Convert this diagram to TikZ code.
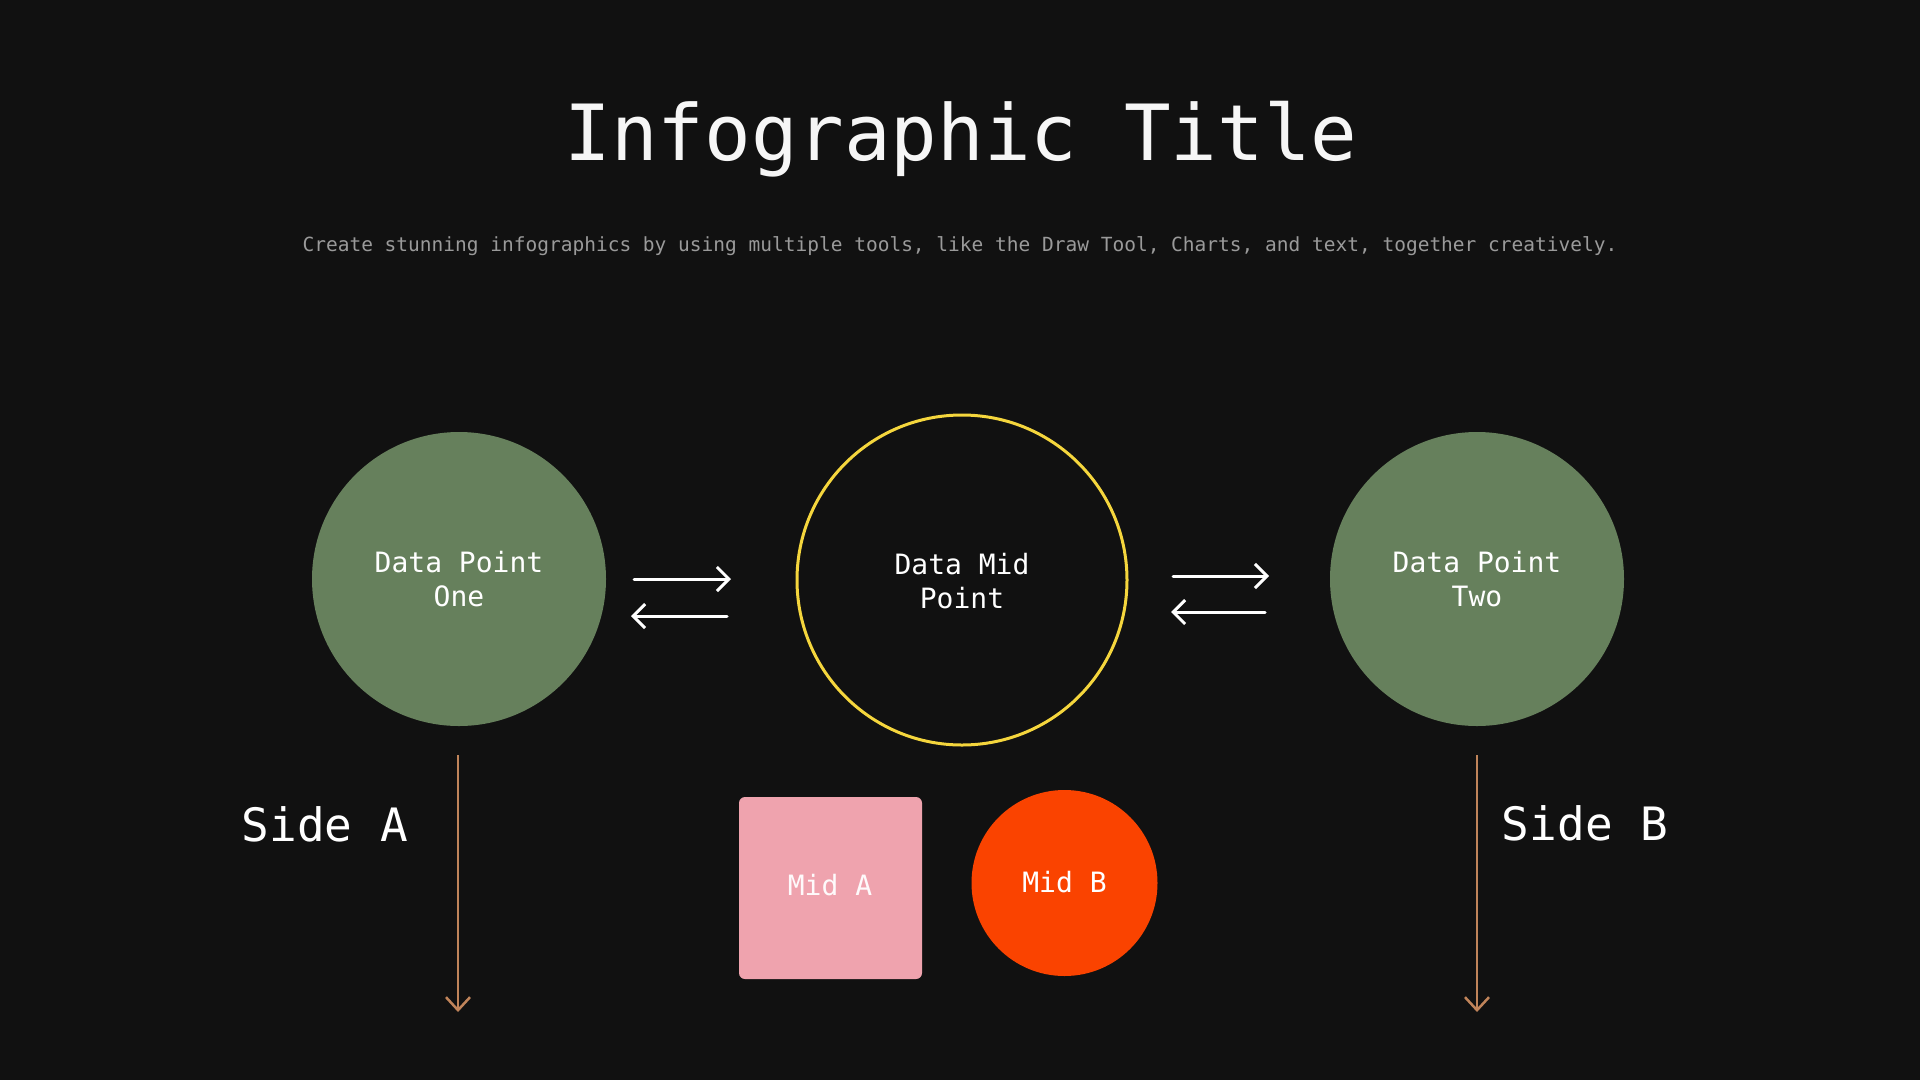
\documentclass[tikz,border=0pt]{standalone}
\usepackage{fontspec}
\setmonofont{DejaVu Sans Mono}
\usetikzlibrary{arrows.meta}
\definecolor{bg}{HTML}{111111}
\definecolor{sage}{HTML}{66805C}
\definecolor{gold}{HTML}{F5D63D}
\definecolor{pinkbox}{HTML}{EFA3AE}
\definecolor{redorange}{HTML}{FA4300}
\definecolor{copper}{HTML}{C0845A}
\definecolor{subgray}{HTML}{9A9A9A}
\tikzset{
  lbl/.style={text=white, font=\ttfamily\fontsize{28}{34}\selectfont, align=center},
  greendot/.style={circle, fill=sage, minimum size=294pt, inner sep=0pt},
  swap/.style={draw=white, line width=3pt, line cap=round, -{Straight Barb[length=12pt,width=24pt,line width=3pt]}},
  downarrow/.style={draw=copper, line width=2.5pt, -{Straight Barb[length=13pt,width=24pt,line width=2.5pt]}},
  sidelbl/.style={text=white, font=\ttfamily\fontsize{46}{50}\selectfont}
}
\begin{document}
\begin{tikzpicture}[x=1pt,y=-1pt]
\fill[bg] (0,0) rectangle (1920,1080);
\useasboundingbox (0,0) rectangle (1920,1080);

\node[anchor=base, text=white!93!gray, font=\ttfamily\fontsize{77.5}{84}\selectfont] (title) at (961,160) {Infographic Title};
\node[anchor=base, text=subgray, font=\ttfamily\fontsize{19.5}{22}\selectfont] (sub) at (960,251) {Create stunning infographics by using multiple tools, like the Draw Tool, Charts, and text, together creatively.};

\node[greendot] (one) at (459,579) {};
\node[lbl] at (one.center) {Data Point\\One};

\node[circle, draw=gold, line width=3pt, minimum size=330pt, inner sep=0pt] (mid) at (962,580) {};
\node[lbl] at (962,581) {Data Mid\\Point};

\node[greendot] (two) at (1477,579) {};
\node[lbl] at (two.center) {Data Point\\Two};

% swap arrows left
\coordinate (la1) at (634,579); \coordinate (la2) at (731,579);
\coordinate (lb1) at (727,616); \coordinate (lb2) at (631,616);
\draw[swap] (la1) -- (la2);
\draw[swap] (lb1) -- (lb2);
% swap arrows right
\coordinate (ra1) at (1173,576); \coordinate (ra2) at (1269,576);
\coordinate (rb1) at (1265,612); \coordinate (rb2) at (1171,612);
\draw[swap] (ra1) -- (ra2);
\draw[swap] (rb1) -- (rb2);

% side labels
\node[sidelbl] (sideA) at (325,824) {Side A};
\node[sidelbl] (sideB) at (1585,823) {Side B};

% down arrows
\coordinate (da1) at (458,755); \coordinate (da2) at (458,1012);
\coordinate (db1) at (1477,755); \coordinate (db2) at (1477,1012);
\draw[downarrow] (da1) -- (da2);
\draw[downarrow] (db1) -- (db2);

% mid boxes
\node[rectangle, rounded corners=6pt, fill=pinkbox, minimum width=183pt, minimum height=182pt, inner sep=0pt] (midA) at (830.5,888) {};
\node[lbl, text=white!95!pinkbox] at (830,885) {Mid A};
\node[circle, fill=redorange, minimum size=186pt, inner sep=0pt] (midB) at (1064.5,883) {};
\node[lbl] at (1064.5,882) {Mid B};
\end{tikzpicture}
\end{document}
